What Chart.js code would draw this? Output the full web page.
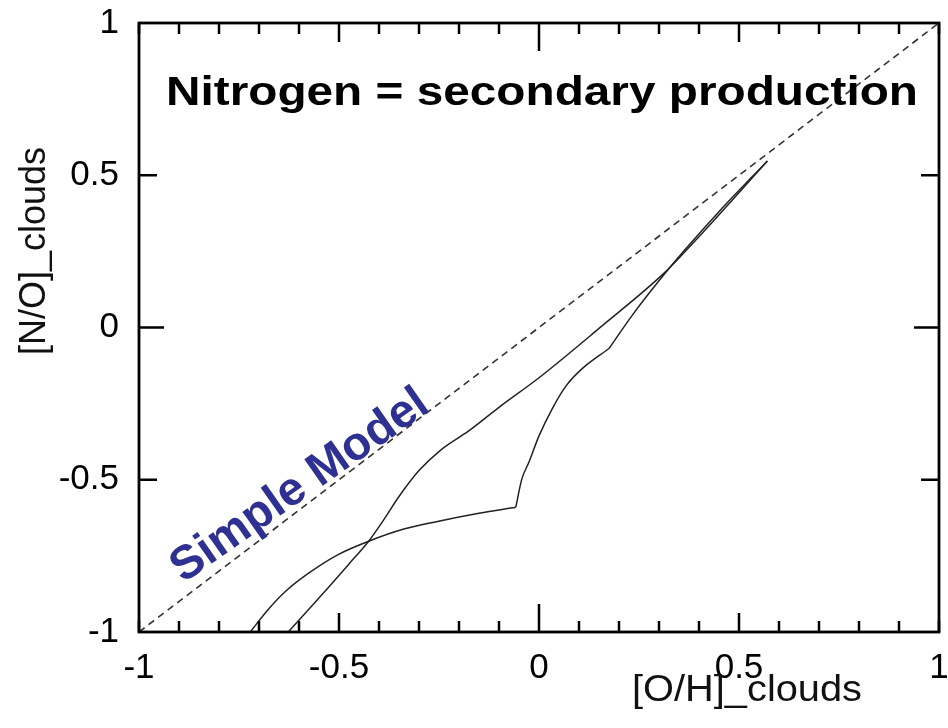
<!DOCTYPE html>
<html>
<head>
<meta charset="utf-8">
<script src="https://cdn.jsdelivr.net/npm/chart.js@4.4.1/dist/chart.umd.min.js"></script>
<style>
body { margin:0; background:#fff; }
#wrap { width:948px; height:728px; position:relative; }
</style>
</head>
<body>
<div id="wrap"><canvas id="chart"></canvas></div>
<script>
// Tick labels
var x_ticks = [-1, -0.5, 0, 0.5, 1];
var y_ticks = [-1, -0.5, 0, 0.5, 1];

// Track that starts at [O/H] = -0.72 (goes through the cusp and a small kink)
var track_1_x = [-0.722, -0.677, -0.634, -0.576, -0.501, -0.426, -0.338, -0.251, -0.150, -0.058,
                 -0.043, -0.025, 0.0, 0.033, 0.068, 0.108, 0.175, 0.233, 0.301, 0.368, 0.451, 0.571];
var track_1_y = [-1.0, -0.926, -0.867, -0.807, -0.745, -0.702, -0.662, -0.636, -0.610, -0.590,
                 -0.498, -0.442, -0.356, -0.267, -0.191, -0.135, -0.069, 0.040, 0.155, 0.260, 0.382, 0.547];
// indices where track 1 has sharp corners
var track_1_breaks = [9, 16];

// Track that starts at [O/H] = -0.63
var track_2_x = [-0.627, -0.576, -0.526, -0.476, -0.426, -0.390, -0.350, -0.300, -0.248, -0.175, -0.100,
                 0.0, 0.150, 0.318, 0.401, 0.571];
var track_2_y = [-1.0, -0.926, -0.853, -0.778, -0.702, -0.635, -0.555, -0.470, -0.405, -0.339, -0.262,
                 -0.165, -0.003, 0.185, 0.300, 0.547];

// Simple model: N/O goes one to one with O/H
var simple_x = [-1, 1];
var simple_y = [-1, 1];

var title_text = "Nitrogen = secondary production";
var model_text = "Simple Model";
var x_title = "[O/H]_clouds";
var y_title = "[N/O]_clouds";

function to_points(xs, ys){
    let pts = [];
    for (let i = 0; i < xs.length; i++){
        pts.push({x: xs[i], y: ys[i]});
    }
    return pts;
}

// cut a track into pieces at its corners so the smoothing keeps them sharp
function split_track(xs, ys, breaks){
    let pieces = [];
    let start = 0;
    let cuts = breaks.concat([xs.length - 1]);
    for (let i = 0; i < cuts.length; i++){
        pieces.push(to_points(xs.slice(start, cuts[i] + 1), ys.slice(start, cuts[i] + 1)));
        start = cuts[i];
    }
    return pieces;
}

function set_ticks(values){
    return function(scale){
        scale.ticks = values.map(function(v){ return {value: v}; });
    };
}

// no extra room for labels hanging over the ends of the axes
function no_overhang(scale){
    scale.paddingTop = 0;
    scale.paddingBottom = 0;
    scale.paddingLeft = 0;
    scale.paddingRight = 0;
}

// frame with inward ticks + the text on top of the plot
var frame_plugin = {
    id: 'frame',
    afterDraw: function(chart){
        var ctx = chart.ctx;
        var a = chart.chartArea;
        var sx = chart.scales.x;
        var sy = chart.scales.y;

        ctx.save();
        ctx.strokeStyle = '#000';
        ctx.lineWidth = 2.8;
        ctx.strokeRect(a.left, a.top, a.right - a.left, a.bottom - a.top);

        ctx.lineWidth = 2.5;
        ctx.beginPath();
        for (let i = 0; i <= 20; i++){
            let v = -1 + i * 0.1;
            let px = sx.getPixelForValue(v);
            let len = 11;
            if (Math.abs(v) < 1e-6) len = 28;
            else if (Math.abs(Math.abs(v) - 0.5) < 1e-6) len = 19;
            ctx.moveTo(px, a.bottom); ctx.lineTo(px, a.bottom - len);
            ctx.moveTo(px, a.top); ctx.lineTo(px, a.top + len);
        }
        for (let i = 1; i < y_ticks.length - 1; i++){
            let py = sy.getPixelForValue(y_ticks[i]);
            let len = y_ticks[i] == 0 ? 25 : 18;
            ctx.moveTo(a.left, py); ctx.lineTo(a.left + len, py);
            ctx.moveTo(a.right, py); ctx.lineTo(a.right - len, py);
        }
        ctx.stroke();

        // Title inside the plot
        ctx.fillStyle = '#000';
        ctx.font = 'bold 40px "Liberation Sans", Arial, sans-serif';
        ctx.textBaseline = 'alphabetic';
        ctx.textAlign = 'left';
        let w = ctx.measureText(title_text).width;
        ctx.save();
        ctx.translate(166, 105);
        ctx.scale(752 / w, 1);
        ctx.fillText(title_text, 0, 0);
        ctx.restore();

        // Simple Model label along the dashed line
        ctx.save();
        ctx.fillStyle = '#2e3192';
        ctx.font = 'bold 47px "Liberation Sans", Arial, sans-serif';
        ctx.textAlign = 'center';
        ctx.textBaseline = 'middle';
        ctx.translate(300, 486);
        ctx.rotate(-35 * Math.PI / 180);
        ctx.fillText(model_text, 0, 0);
        ctx.restore();

        // Axis titles
        ctx.fillStyle = '#111';
        ctx.font = '36px "Liberation Sans", Arial, sans-serif';
        ctx.textAlign = 'center';
        ctx.textBaseline = 'alphabetic';
        let wx = ctx.measureText(x_title).width;
        ctx.save();
        ctx.translate(747, 701);
        ctx.scale(230 / wx, 1);
        ctx.fillText(x_title, 0, 0);
        ctx.restore();

        ctx.save();
        ctx.translate(45, 251);
        ctx.rotate(-Math.PI / 2);
        ctx.fillText(y_title, 0, 0);
        ctx.restore();

        ctx.restore();
    }
};

var line_style = {
    showLine: true,
    pointRadius: 0,
    borderColor: '#222',
    borderWidth: 1.5,
    cubicInterpolationMode: 'monotone',
    fill: false
};

var datasets = [
    Object.assign({label: 'simple', data: to_points(simple_x, simple_y)}, line_style,
                  {borderColor: '#333', borderWidth: 1.6, borderDash: [7, 5]}),
    Object.assign({label: 'track 2', data: to_points(track_2_x, track_2_y)}, line_style)
];
var track_1_pieces = split_track(track_1_x, track_1_y, track_1_breaks);
for (let i = 0; i < track_1_pieces.length; i++){
    datasets.push(Object.assign({label: 'track 1', data: track_1_pieces[i]}, line_style));
}

var tick_font = { family: '"Liberation Sans", Arial, sans-serif', size: 35 };

var config = {
    type: 'scatter',
    data: { datasets: datasets },
    options: {
        responsive: true,
        maintainAspectRatio: false,
        animation: false,
        layout: { padding: {top: 23, right: 9, left: 0, bottom: 0} },
        plugins: {
            legend: { display: false },
            tooltip: { enabled: false }
        },
        scales: {
            x: {
                type: 'linear',
                min: -1, max: 1,
                afterBuildTicks: set_ticks(x_ticks),
                afterFit: function(scale){ scale.height = 96; no_overhang(scale); },
                grid: { display: false, drawTicks: false },
                border: { display: false },
                ticks: {
                    padding: 15,
                    color: '#000',
                    maxRotation: 0,
                    autoSkip: false,
                    font: tick_font,
                    callback: function(v){ return String(v); }
                }
            },
            y: {
                type: 'linear',
                min: -1, max: 1,
                afterBuildTicks: set_ticks(y_ticks),
                afterFit: function(scale){ scale.width = 139; no_overhang(scale); },
                grid: { display: false, drawTicks: false },
                border: { display: false },
                ticks: {
                    padding: 20,
                    color: '#000',
                    autoSkip: false,
                    font: tick_font,
                    callback: function(v){ return String(v); }
                }
            }
        }
    },
    plugins: [frame_plugin]
};

var chart_1 = new Chart(document.getElementById('chart'), config);
</script>
</body>
</html>
